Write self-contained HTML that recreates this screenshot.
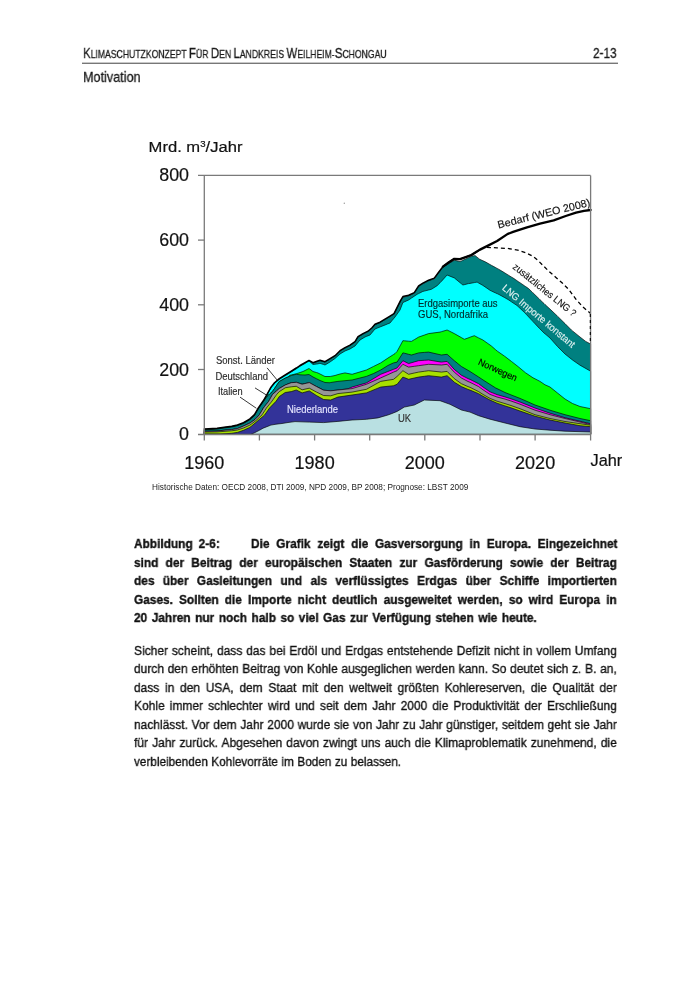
<!DOCTYPE html>
<html><head><meta charset="utf-8">
<style>
html,body{margin:0;padding:0;background:#fff;}
body{width:700px;height:990px;position:relative;overflow:hidden;font-family:"Liberation Sans",sans-serif;color:#1a1a1a;}
.ln{position:absolute;left:0;top:0;white-space:normal;transform-origin:0 0;text-align:justify;text-align-last:justify;line-height:1;will-change:transform;}
.r{font-size:13.7px;-webkit-text-stroke:0.35px #111;color:#111;}
.h{-webkit-text-stroke:0.3px #1a1a1a;}
.b{font-size:13.2px;font-weight:bold;-webkit-text-stroke:0.35px #111;color:#111;}
svg{position:absolute;left:0;top:0;will-change:transform;}
</style></head><body>
<svg width="700" height="990" viewBox="0 0 700 990" font-family="Liberation Sans, sans-serif">
<!-- header line -->
<rect x="82" y="62.6" width="536" height="1.4" fill="#777"/>
<!-- chart layers -->
<g>
<path d="M204.3,434.3 L204.3,429.4 L217.1,428.6 L220.0,428.1 L226.0,427.2 L231.7,426.6 L237.4,425.2 L243.5,422.9 L249.9,419.2 L251.0,418.2 L251.4,417.8 L254.5,414.9 L255.0,414.0 L256.0,412.3 L257.0,410.6 L258.5,408.0 L259.3,406.8 L259.4,406.7 L262.0,403.0 L263.0,401.5 L263.3,401.1 L263.4,400.9 L264.7,398.7 L266.3,395.9 L266.4,395.7 L267.0,394.6 L267.2,394.3 L268.8,391.4 L269.3,390.5 L269.6,389.9 L270.9,387.6 L271.0,387.4 L272.0,386.1 L272.4,385.6 L272.6,385.4 L274.5,383.0 L276.0,381.7 L276.2,381.5 L276.8,381.0 L279.3,378.9 L282.0,377.2 L285.2,375.2 L285.6,375.0 L288.0,373.5 L290.0,372.3 L291.3,371.5 L293.0,370.4 L295.0,369.1 L296.3,368.3 L298.0,367.2 L300.0,365.8 L302.1,364.6 L303.0,364.1 L305.0,363.0 L309.0,360.8 L309.3,361.0 L313.0,363.0 L316.4,361.7 L317.0,361.5 L318.0,361.2 L320.0,360.5 L323.6,361.6 L325.0,362.0 L330.0,359.0 L330.7,358.6 L335.0,356.0 L337.9,353.1 L340.0,351.0 L345.0,348.0 L348.0,346.5 L350.0,345.5 L352.1,344.0 L355.0,342.0 L358.0,337.0 L360.0,335.8 L363.0,334.0 L365.0,333.0 L366.4,332.3 L368.0,331.5 L370.0,329.8 L372.0,328.0 L373.6,326.1 L375.0,324.5 L377.9,323.3 L380.0,322.5 L380.7,322.1 L385.0,319.5 L387.9,317.8 L388.0,317.7 L390.0,316.5 L392.0,315.2 L393.6,314.2 L394.0,314.0 L395.0,312.0 L397.1,307.8 L398.0,306.0 L400.0,302.0 L400.5,301.0 L402.9,297.2 L404.3,296.9 L408.6,295.8 L411.4,294.5 L414.3,293.2 L417.1,288.8 L418.6,286.5 L422.9,283.7 L424.3,283.0 L428.6,280.8 L431.4,279.8 L434.3,278.7 L437.1,274.9 L438.6,272.9 L440.0,271.0 L441.4,269.2 L442.9,267.2 L447.1,264.6 L448.6,263.7 L450.0,262.8 L454.3,260.2 L460.0,261.5 L461.4,260.9 L462.9,260.2 L464.3,259.6 L465.7,259.0 L468.0,257.9 L468.6,257.6 L470.0,257.0 L471.4,256.3 L474.3,255.7 L475.0,255.5 L477.1,257.2 L478.6,258.4 L479.7,259.3 L482.9,260.7 L483.0,260.8 L485.7,262.0 L487.0,262.8 L490.0,264.5 L491.4,265.3 L495.7,267.6 L497.0,268.4 L497.1,268.4 L499.0,269.4 L500.0,270.0 L504.3,272.6 L505.0,273.1 L508.0,274.9 L511.0,276.8 L511.4,277.0 L514.0,278.6 L517.0,280.7 L518.6,281.8 L520.0,282.7 L524.5,285.8 L525.7,286.6 L526.0,286.8 L528.6,288.6 L532.0,291.9 L533.0,292.9 L535.0,294.8 L539.5,299.2 L540.0,299.7 L542.9,302.5 L544.0,303.5 L545.0,304.5 L550.0,309.1 L557.0,315.7 L557.5,316.2 L565.0,323.6 L571.4,330.0 L572.5,330.9 L580.0,337.0 L585.7,341.4 L590.6,344.0 L590.6,434.3 Z" fill="#008080" stroke="#000" stroke-width="0.65" stroke-linejoin="round"/>
<path d="M204.3,434.3 L204.3,430.0 L217.1,429.1 L220.0,428.6 L226.0,427.7 L231.7,427.0 L237.4,425.7 L243.5,423.5 L249.9,419.7 L251.0,418.7 L251.4,418.3 L254.5,415.4 L255.0,414.5 L256.0,412.8 L257.0,411.1 L258.5,408.5 L259.3,407.3 L259.4,407.2 L262.0,403.5 L263.0,402.0 L263.3,401.6 L263.4,401.5 L264.7,399.7 L266.3,397.5 L266.4,397.3 L267.0,396.5 L267.2,394.8 L268.8,391.9 L269.3,391.0 L269.6,390.4 L270.9,388.1 L271.0,387.9 L272.0,386.6 L272.4,386.1 L272.6,385.9 L274.5,383.5 L276.0,382.2 L276.2,382.0 L276.8,381.5 L279.3,379.4 L282.0,377.7 L285.2,375.7 L285.6,375.5 L288.0,374.0 L290.0,372.8 L291.3,372.0 L293.0,370.9 L295.0,369.6 L296.3,368.8 L298.0,367.7 L300.0,366.3 L302.1,365.1 L303.0,364.6 L305.0,363.5 L309.0,360.8 L309.3,361.1 L313.0,364.5 L316.4,364.1 L317.0,364.0 L318.0,363.8 L320.0,363.3 L323.6,364.5 L325.0,365.0 L330.0,362.0 L330.7,361.5 L335.0,358.5 L337.9,355.9 L340.0,354.0 L345.0,351.0 L348.0,349.8 L350.0,349.0 L352.1,347.7 L355.0,346.0 L360.0,340.0 L365.0,337.0 L366.4,336.4 L370.0,335.0 L373.6,330.7 L375.0,329.0 L377.9,327.8 L380.0,327.0 L380.7,326.7 L385.0,325.0 L387.9,323.8 L388.0,323.8 L390.0,323.0 L392.0,320.6 L393.6,318.7 L395.0,317.0 L397.1,314.1 L400.0,310.0 L402.9,302.5 L404.3,301.9 L408.6,300.0 L411.4,298.1 L414.3,296.2 L417.1,294.3 L418.6,293.6 L422.9,291.4 L424.3,291.1 L428.6,290.0 L431.4,289.3 L437.1,285.7 L440.0,282.8 L441.4,281.4 L447.1,275.0 L450.0,276.2 L454.3,277.9 L461.4,283.8 L462.9,285.0 L464.3,284.7 L468.0,283.7 L468.6,283.6 L470.0,283.4 L474.3,282.6 L477.1,282.1 L478.6,283.0 L482.9,285.4 L483.0,285.5 L487.0,288.2 L490.0,290.3 L491.4,291.0 L495.7,293.0 L497.0,293.6 L497.1,293.6 L499.0,294.5 L504.3,297.4 L505.0,297.8 L508.0,299.5 L511.0,301.5 L511.4,301.8 L517.0,305.5 L518.6,307.0 L520.0,308.3 L524.5,312.5 L525.7,313.8 L526.0,314.1 L532.0,320.5 L533.0,321.6 L535.0,323.7 L539.5,328.5 L540.0,329.0 L544.0,333.0 L545.0,333.8 L550.0,338.0 L557.5,346.5 L565.0,354.0 L572.5,360.0 L580.0,365.2 L590.6,371.2 L590.6,434.3 Z" fill="#00ffff" stroke="#000" stroke-width="0.65" stroke-linejoin="round"/>
<path d="M204.3,434.3 L204.3,430.0 L217.1,429.1 L220.0,428.6 L226.0,427.7 L231.7,427.0 L237.4,425.7 L243.5,423.5 L249.9,419.7 L251.0,418.7 L251.4,418.3 L254.5,415.4 L255.0,414.5 L256.0,412.8 L257.0,411.1 L258.5,408.5 L259.3,407.3 L259.4,407.2 L262.0,403.5 L263.0,402.0 L263.3,401.6 L263.4,401.5 L264.7,399.7 L266.3,397.5 L266.4,397.3 L267.0,396.5 L268.8,394.8 L269.3,394.3 L269.6,394.0 L270.9,392.9 L272.0,391.9 L272.4,391.5 L272.6,391.2 L274.5,388.5 L276.0,386.3 L276.2,386.0 L276.8,385.1 L279.3,381.5 L282.0,380.0 L285.2,378.2 L288.0,377.0 L290.0,375.2 L291.3,374.9 L293.0,374.6 L295.0,374.0 L296.3,373.7 L298.0,373.2 L300.0,372.5 L302.1,371.8 L303.0,371.5 L305.0,370.5 L309.0,368.5 L309.3,368.7 L313.0,371.5 L316.4,372.5 L318.0,373.0 L320.0,374.0 L323.6,375.8 L325.0,376.5 L330.0,376.5 L330.7,376.4 L335.0,375.5 L337.9,374.6 L340.0,374.0 L345.0,372.9 L348.0,373.5 L352.1,374.3 L366.4,370.0 L373.6,366.4 L377.9,364.3 L380.7,362.9 L387.9,358.1 L388.0,358.0 L392.0,355.5 L393.6,354.5 L395.0,353.6 L397.1,351.4 L402.9,340.7 L404.3,340.8 L408.6,341.2 L411.4,341.4 L414.3,339.7 L418.6,337.1 L424.3,335.1 L428.6,333.6 L440.0,332.1 L441.4,331.7 L447.1,330.0 L450.0,331.4 L454.3,333.6 L461.4,337.6 L464.3,339.3 L468.0,338.0 L470.0,337.2 L474.3,335.7 L478.6,337.9 L482.9,340.0 L483.0,340.1 L487.0,342.9 L490.0,345.0 L491.4,346.0 L495.7,349.8 L497.0,350.9 L497.1,351.0 L504.3,356.0 L505.0,356.5 L511.0,361.1 L511.4,361.4 L518.6,367.0 L520.0,368.2 L525.7,372.9 L526.0,373.1 L533.0,377.8 L535.0,378.8 L540.0,381.4 L545.0,384.8 L550.0,387.0 L557.5,393.0 L565.0,399.0 L572.5,403.5 L580.0,406.5 L590.6,408.7 L590.6,434.3 Z" fill="#00ff00" stroke="#000" stroke-width="0.65" stroke-linejoin="round"/>
<path d="M204.3,434.3 L204.3,430.0 L217.1,429.1 L220.0,428.6 L226.0,427.7 L231.7,427.0 L237.4,425.7 L243.5,423.5 L249.9,419.7 L251.0,418.7 L251.4,418.3 L254.5,415.4 L255.0,414.5 L256.0,412.8 L257.0,411.1 L258.5,408.5 L259.3,407.3 L259.4,407.2 L262.0,403.5 L263.0,402.0 L263.3,401.6 L263.4,401.5 L264.7,399.7 L266.3,397.5 L266.4,397.3 L267.0,396.5 L268.8,394.8 L269.3,394.3 L269.6,394.0 L270.9,392.9 L272.0,391.9 L272.4,391.5 L272.6,391.2 L274.5,388.5 L276.0,386.3 L276.2,386.0 L276.8,385.1 L279.3,381.5 L282.0,380.0 L285.2,378.2 L288.0,377.0 L291.3,375.5 L295.0,374.6 L296.3,374.3 L300.0,374.8 L302.1,374.9 L305.0,375.0 L309.0,374.5 L309.3,374.7 L313.0,377.0 L316.4,378.7 L320.0,380.5 L323.6,381.9 L325.0,382.5 L330.0,382.8 L330.7,382.5 L337.9,381.4 L348.0,380.4 L352.1,380.0 L366.4,376.4 L373.6,373.5 L377.9,371.4 L380.7,370.0 L387.9,365.5 L392.0,363.6 L393.6,362.9 L397.1,362.1 L402.9,352.9 L404.3,353.2 L408.6,354.3 L411.4,355.0 L414.3,354.2 L418.6,352.9 L424.3,352.4 L428.6,352.1 L440.0,354.7 L441.4,355.0 L447.1,354.3 L450.0,356.9 L454.3,360.7 L461.4,366.5 L468.0,370.3 L470.0,371.5 L478.6,377.0 L483.0,379.9 L487.0,382.5 L490.0,384.4 L495.7,388.0 L497.0,388.6 L505.0,392.5 L511.0,394.9 L520.0,398.4 L526.0,401.0 L535.0,405.0 L550.0,410.2 L565.0,414.7 L580.0,418.5 L590.6,420.7 L590.6,434.3 Z" fill="#008080" stroke="#000" stroke-width="0.65" stroke-linejoin="round"/>
<path d="M204.3,434.3 L204.3,431.3 L217.1,431.0 L220.0,430.7 L226.0,430.0 L231.7,429.6 L237.4,428.6 L243.5,426.0 L249.9,423.1 L251.0,422.3 L251.4,422.0 L255.0,419.5 L256.0,418.4 L257.0,417.4 L259.3,414.9 L259.4,414.7 L262.0,410.4 L263.0,408.7 L263.4,408.0 L264.7,406.3 L266.3,404.3 L266.4,404.2 L268.8,401.1 L269.6,399.7 L270.9,397.3 L272.0,395.4 L272.6,394.3 L276.0,391.4 L276.2,391.2 L276.8,390.7 L279.3,388.5 L282.0,386.9 L285.2,385.0 L288.0,383.9 L291.3,382.7 L295.0,382.4 L296.3,382.3 L302.1,384.2 L309.3,382.6 L316.4,386.5 L323.6,390.2 L330.7,390.8 L337.9,390.0 L348.0,388.8 L352.1,387.0 L366.4,382.9 L377.9,376.0 L380.7,374.3 L387.9,371.5 L392.0,369.9 L393.6,369.3 L397.1,367.9 L402.9,360.7 L404.3,361.4 L408.6,363.6 L414.3,361.9 L418.6,360.7 L424.3,360.3 L428.6,360.0 L440.0,361.9 L441.4,362.1 L447.1,361.4 L450.0,364.6 L454.3,369.4 L461.4,375.2 L468.0,378.6 L470.0,379.4 L478.6,383.7 L483.0,387.0 L490.0,391.8 L497.0,394.6 L505.0,396.9 L511.0,398.8 L520.0,402.0 L526.0,404.4 L535.0,408.0 L550.0,413.2 L565.0,417.7 L580.0,421.2 L590.6,423.7 L590.6,434.3 Z" fill="#ff00ff" stroke="#000" stroke-width="0.65" stroke-linejoin="round"/>
<path d="M204.3,434.3 L204.3,431.3 L217.1,431.0 L220.0,430.7 L226.0,430.0 L231.7,429.6 L237.4,428.6 L243.5,426.0 L249.9,423.1 L251.0,422.3 L251.4,422.0 L255.0,419.5 L256.0,418.4 L257.0,417.4 L259.3,414.9 L259.4,414.7 L262.0,410.4 L263.0,408.7 L263.4,408.0 L264.7,406.3 L266.3,404.3 L266.4,404.2 L268.8,401.1 L269.6,399.7 L270.9,397.3 L272.0,395.4 L272.6,394.3 L276.0,391.4 L276.2,391.2 L276.8,390.7 L279.3,388.5 L282.0,386.9 L285.2,385.0 L288.0,383.9 L291.3,382.7 L295.0,382.4 L296.3,382.3 L302.1,384.2 L309.3,382.6 L316.4,386.5 L323.6,390.2 L330.7,390.8 L337.9,390.0 L352.1,388.6 L366.4,384.3 L377.9,379.2 L380.7,377.9 L387.9,374.7 L392.0,372.8 L393.6,372.1 L397.1,370.7 L402.9,364.3 L404.3,365.0 L408.6,367.1 L414.3,366.3 L418.6,365.7 L424.3,364.9 L428.6,364.3 L440.0,364.9 L441.4,365.0 L447.1,364.3 L450.0,367.5 L454.3,372.2 L461.4,378.0 L468.0,381.5 L470.0,382.3 L478.6,386.6 L483.0,389.8 L490.0,394.4 L497.0,397.0 L505.0,399.1 L511.0,401.0 L520.0,404.2 L526.0,406.6 L535.0,410.2 L550.0,414.7 L565.0,418.5 L580.0,422.0 L590.6,424.5 L590.6,434.3 Z" fill="#969696" stroke="#000" stroke-width="0.65" stroke-linejoin="round"/>
<path d="M204.3,434.3 L204.3,432.1 L217.1,431.9 L220.0,431.7 L226.0,431.2 L231.7,430.8 L237.4,430.0 L243.5,428.0 L249.9,425.1 L251.0,424.3 L251.4,424.0 L255.0,421.3 L256.0,420.5 L257.0,419.6 L259.4,417.3 L262.0,414.9 L263.0,413.3 L264.7,410.7 L266.3,408.2 L266.4,408.0 L269.6,404.1 L270.9,402.5 L272.0,401.1 L276.0,395.4 L276.2,395.2 L276.8,394.3 L279.3,391.6 L282.0,389.9 L285.2,387.8 L288.0,387.3 L291.3,386.8 L295.0,386.4 L296.3,386.3 L302.1,389.8 L309.3,388.2 L316.4,392.0 L323.6,395.5 L330.7,395.8 L337.9,393.6 L352.1,392.1 L366.4,389.3 L377.9,382.9 L380.7,381.4 L387.9,380.2 L392.0,379.6 L393.6,379.3 L397.1,376.4 L402.9,370.7 L404.3,371.6 L408.6,374.3 L414.3,373.0 L418.6,372.1 L424.3,371.3 L428.6,370.7 L440.0,371.9 L441.4,372.1 L447.1,371.4 L450.0,374.3 L454.3,378.6 L461.4,383.7 L468.0,386.6 L470.0,387.3 L478.6,391.6 L483.0,394.4 L490.0,398.4 L497.0,401.2 L505.0,403.6 L511.0,405.5 L520.0,408.7 L526.0,411.1 L535.0,414.7 L550.0,418.5 L565.0,421.5 L580.0,423.7 L590.6,425.2 L590.6,434.3 Z" fill="#a8e000" stroke="#000" stroke-width="0.65" stroke-linejoin="round"/>
<path d="M204.3,434.3 L204.3,434.0 L220.0,434.0 L226.0,433.7 L231.7,433.3 L237.4,432.4 L243.5,430.3 L249.9,427.4 L251.0,426.5 L251.4,426.2 L255.0,423.2 L257.0,421.5 L259.4,419.4 L263.0,416.4 L264.7,414.9 L266.3,412.6 L269.6,408.0 L270.9,406.6 L276.0,401.3 L276.2,401.1 L279.3,396.5 L282.0,394.7 L285.2,392.5 L288.0,392.1 L291.3,391.6 L295.0,390.4 L296.3,390.0 L302.1,392.9 L309.3,390.9 L316.4,395.5 L323.6,399.5 L330.7,400.0 L337.9,397.1 L352.1,395.0 L366.4,392.9 L377.9,388.2 L380.7,387.1 L387.9,386.3 L392.0,385.9 L393.6,385.7 L397.1,384.3 L402.9,377.1 L404.3,377.6 L408.6,379.3 L414.3,378.0 L418.6,377.1 L424.3,376.3 L428.6,375.7 L440.0,376.9 L441.4,377.1 L447.1,375.7 L450.0,378.3 L454.3,382.2 L461.4,386.6 L468.0,389.4 L470.0,390.1 L478.6,393.7 L483.0,396.3 L490.0,400.1 L497.0,403.2 L505.0,405.9 L511.0,407.8 L520.0,411.0 L526.0,413.1 L535.0,416.2 L550.0,420.0 L565.0,423.0 L580.0,425.7 L590.6,426.7 L590.6,434.3 Z" fill="#333399" stroke="#000" stroke-width="0.65" stroke-linejoin="round"/>
<path d="M251.4,434.3 L251.4,434.2 L255.0,432.5 L259.4,430.3 L263.0,428.2 L266.3,426.9 L270.9,425.1 L276.0,424.2 L282.0,423.5 L288.0,422.5 L295.0,421.6 L309.3,422.1 L323.6,422.6 L337.9,421.4 L352.1,420.0 L366.4,419.3 L377.9,417.9 L387.9,415.0 L392.0,413.5 L397.1,411.4 L404.3,407.1 L414.3,405.0 L424.3,400.0 L440.0,400.7 L450.0,404.3 L461.4,410.0 L470.0,412.1 L478.6,415.7 L490.0,419.2 L505.0,423.0 L520.0,426.7 L535.0,429.0 L550.0,430.2 L565.0,431.2 L590.6,432.0 L590.6,434.3 Z" fill="#b9e0e2" stroke="#000" stroke-width="0.65" stroke-linejoin="round"/>
</g>
<!-- Bedarf -->
<polyline points="204.3,429.1 217.1,428.3 226.0,426.9 231.7,426.3 237.4,424.9 243.5,422.6 249.9,418.9 254.5,414.6 258.5,407.7 263.3,400.8 267.2,394.0 271.0,387.1 274.5,382.7 279.3,378.6 285.6,374.7 291.3,371.2 296.3,368.0 300.0,365.5 305.0,362.7 309.0,360.5 313.0,362.7 317.0,361.2 320.0,360.2 325.0,361.7 330.0,358.7 335.0,355.7 340.0,350.7 345.0,347.7 350.0,345.2 355.0,341.7 358.0,336.7 363.0,333.7 368.0,331.2 372.0,327.7 375.0,324.2 380.0,322.2 385.0,319.2 390.0,316.2 394.0,313.7 398.0,305.7 400.5,300.7 402.9,296.6 408.6,295.2 414.3,292.6 418.6,285.9 422.9,283.1 428.6,280.2 434.3,278.1 438.6,272.3 442.9,266.6 448.6,262.5 454.3,258.8 460.0,259.1 465.7,257.1 471.4,255.0 476.5,251.8 480.0,249.6" fill="none" stroke="#000" stroke-width="1.5" stroke-linejoin="round" stroke-linecap="round"/>
<polyline points="442.9,266.6 448.6,262.5 454.3,258.8 460.0,259.1 465.7,257.1 471.4,255.0 476.5,251.8 480.0,249.6 488.0,245.6 497.1,241.0 507.4,234.1 513.1,231.9 520.0,229.6 527.0,227.3 540.0,223.7 553.7,220.3 565.7,216.0 576.0,212.6 584.0,210.8 590.6,210.0" fill="none" stroke="#000" stroke-width="2.3" stroke-linejoin="round" stroke-linecap="round"/>
<polyline points="486.9,247.3 497.1,247.9 507.4,248.4 517.7,250.1 526.3,253.0 533.1,256.4 538.3,260.7 543.4,265.9 548.6,271.0 555.4,277.0 562.3,283.0 569.1,289.9 576.0,299.3 582.9,307.0 590.3,313.2" fill="none" stroke="#000" stroke-width="1.3" stroke-dasharray="4,3"/>
<!-- axes frame -->
<g stroke="#7a7a7a" stroke-width="1.3" fill="none">
<line x1="204.3" y1="175.4" x2="204.3" y2="440.5"/>
<line x1="198" y1="175.4" x2="590.6" y2="175.4"/>
<line x1="590.6" y1="175.4" x2="590.6" y2="440.5"/>
<line x1="198" y1="434.5" x2="590.6" y2="434.5"/>
<line x1="198" y1="240.1" x2="204.3" y2="240.1"/>
<line x1="198" y1="304.8" x2="204.3" y2="304.8"/>
<line x1="198" y1="369.5" x2="204.3" y2="369.5"/>
<line x1="259.4" y1="434.5" x2="259.4" y2="440.5"/>
<line x1="314.6" y1="434.5" x2="314.6" y2="440.5"/>
<line x1="369.7" y1="434.5" x2="369.7" y2="440.5"/>
<line x1="424.8" y1="434.5" x2="424.8" y2="440.5"/>
<line x1="480" y1="434.5" x2="480" y2="440.5"/>
<line x1="535.1" y1="434.5" x2="535.1" y2="440.5"/>
</g>
<line x1="590.3" y1="314" x2="590.3" y2="344" stroke="#000" stroke-width="1.1" stroke-dasharray="3,3"/>
<circle cx="344.3" cy="203.3" r="0.7" fill="#999"/>
<!-- leader lines -->
<g stroke="#222" stroke-width="0.9">
<line x1="267.1" y1="367.9" x2="277.1" y2="380"/>
<line x1="255" y1="387.9" x2="266.4" y2="395"/>
<line x1="240" y1="397.1" x2="256.4" y2="408.3"/>
</g>
<!-- chart text -->
<g fill="#111" stroke="#111" stroke-width="0.2">
<text transform="translate(148.6,151.6) scale(1.07,1)" font-size="15.5">Mrd. m<tspan font-size="9" dy="-4.6">3</tspan><tspan dy="4.6">/Jahr</tspan></text>
<g font-size="18.6" text-anchor="end">
<text transform="translate(189,181.3) scale(0.96,1)">800</text>
<text transform="translate(189,246.1) scale(0.96,1)">600</text>
<text transform="translate(189,310.8) scale(0.96,1)">400</text>
<text transform="translate(189,375.5) scale(0.96,1)">200</text>
<text transform="translate(189,440) scale(0.96,1)">0</text>
</g>
<g font-size="18.5" text-anchor="middle">
<text transform="translate(204.3,469) scale(0.975,1)">1960</text>
<text transform="translate(314.6,469) scale(0.975,1)">1980</text>
<text transform="translate(424.8,469) scale(0.975,1)">2000</text>
<text transform="translate(535.1,469) scale(0.975,1)">2020</text>
</g>
<text x="590.6" y="465.8" font-size="16.3">Jahr</text>
</g>
<g fill="#222">
<text x="152" y="490.2" font-size="8.6" textLength="316.3" lengthAdjust="spacingAndGlyphs">Historische Daten: OECD 2008, DTI 2009, NPD 2009, BP 2008; Prognose: LBST 2009</text>
<g font-size="10" fill="#2a2a2a" stroke="#2a2a2a" stroke-width="0.15">
<text x="216" y="363.7" textLength="59" lengthAdjust="spacingAndGlyphs">Sonst. Länder</text>
<text x="215.4" y="380" textLength="52.5" lengthAdjust="spacingAndGlyphs">Deutschland</text>
<text x="217.9" y="395" textLength="24.7" lengthAdjust="spacingAndGlyphs">Italien</text>
</g>
<text stroke="#e4e4ff" stroke-width="0.15" x="287" y="413.1" font-size="10.3" fill="#e4e4ff" textLength="51" lengthAdjust="spacingAndGlyphs">Niederlande</text>
<text stroke="#333" stroke-width="0.15" x="397.9" y="421.9" font-size="10.3" fill="#333" textLength="13.2" lengthAdjust="spacingAndGlyphs">UK</text>
<g font-size="10.1" fill="#002a2a" stroke="#002a2a" stroke-width="0.15">
<text x="418" y="307.2" textLength="79.6" lengthAdjust="spacingAndGlyphs">Erdgasimporte aus</text>
<text x="418" y="317.6" textLength="70" lengthAdjust="spacingAndGlyphs">GUS, Nordafrika</text>
</g>
<text stroke="#000" stroke-width="0.15" font-size="9.4" fill="#000" transform="translate(477.5,364.3) rotate(24.3)" textLength="41.6" lengthAdjust="spacingAndGlyphs">Norwegen</text>
<text stroke="#111" stroke-width="0.15" font-size="10.6" fill="#111" transform="translate(498.6,228.4) rotate(-13.8)" textLength="95" lengthAdjust="spacingAndGlyphs">Bedarf (WEO 2008)</text>
<text stroke="#111" stroke-width="0.15" font-size="9.8" fill="#111" transform="translate(512.1,267.9) rotate(38.9)" textLength="78.2" lengthAdjust="spacingAndGlyphs">zusätzliches LNG ?</text>
<text stroke="#dcefef" stroke-width="0.15" font-size="9.8" fill="#dcefef" transform="translate(501.4,289.1) rotate(40)" textLength="92" lengthAdjust="spacingAndGlyphs">LNG Importe konstant</text>
</g>
</svg>
<!-- header text -->
<div class="ln h" style="font-size:10.9px;left:82.7px;top:45.82px;transform:scaleX(0.793);text-align:left;text-align-last:left;white-space:nowrap"><span style="font-size:14.5px">K</span>LIMASCHUTZKONZEPT <span style="font-size:14.5px">F</span>ÜR <span style="font-size:14.5px">D</span>EN <span style="font-size:14.5px">L</span>ANDKREIS <span style="font-size:14.5px">W</span>EILHEIM-<span style="font-size:14.5px">S</span>CHONGAU</div>
<div class="ln h" style="font-size:14.5px;left:592.5px;top:46.02px;transform:scaleX(0.81);text-align:left;text-align-last:left;white-space:nowrap">2-13</div>
<div class="ln h" style="font-size:14.2px;left:83.1px;top:69.78px;transform:scaleX(0.89);text-align:left;text-align-last:left;white-space:nowrap">Motivation</div>
<div class="ln b" style="left:134.20px;top:537.12px;width:95.33px;transform:scaleX(0.9000);text-align-last:justify;">Abbildung 2-6:</div>
<div class="ln b" style="left:250.50px;top:537.12px;width:407.22px;transform:scaleX(0.9000);text-align-last:justify;">Die Grafik zeigt die Gasversorgung in Europa. Eingezeichnet</div>
<div class="ln b" style="left:134.20px;top:555.67px;width:536.44px;transform:scaleX(0.9000);text-align-last:justify;">sind der Beitrag der europäischen Staaten zur Gasförderung sowie der Beitrag</div>
<div class="ln b" style="left:134.20px;top:574.22px;width:536.44px;transform:scaleX(0.9000);text-align-last:justify;">des über Gasleitungen und als verflüssigtes Erdgas über Schiffe importierten</div>
<div class="ln b" style="left:134.20px;top:592.77px;width:536.44px;transform:scaleX(0.9000);text-align-last:justify;">Gases. Sollten die Importe nicht deutlich ausgeweitet werden, so wird Europa in</div>
<div class="ln b" style="left:134.20px;top:611.32px;width:447.56px;transform:scaleX(0.9000);text-align-last:justify;">20 Jahren nur noch halb so viel Gas zur Verfügung stehen wie heute.</div>
<div class="ln r" style="left:134.20px;top:643.60px;width:551.77px;transform:scaleX(0.8750);text-align-last:justify;">Sicher scheint, dass das bei Erdöl und Erdgas entstehende Defizit nicht in vollem Umfang</div>
<div class="ln r" style="left:134.20px;top:662.15px;width:551.77px;transform:scaleX(0.8750);text-align-last:justify;">durch den erhöhten Beitrag von Kohle ausgeglichen werden kann. So deutet sich z. B. an,</div>
<div class="ln r" style="left:134.20px;top:680.70px;width:551.77px;transform:scaleX(0.8750);text-align-last:justify;">dass in den USA, dem Staat mit den weltweit größten Kohlereserven, die Qualität der</div>
<div class="ln r" style="left:134.20px;top:699.25px;width:551.77px;transform:scaleX(0.8750);text-align-last:justify;">Kohle immer schlechter wird und seit dem Jahr 2000 die Produktivität der Erschließung</div>
<div class="ln r" style="left:134.20px;top:717.80px;width:551.77px;transform:scaleX(0.8750);text-align-last:justify;">nachlässt. Vor dem Jahr 2000 wurde sie von Jahr zu Jahr günstiger, seitdem geht sie Jahr</div>
<div class="ln r" style="left:134.20px;top:736.35px;width:551.77px;transform:scaleX(0.8750);text-align-last:justify;">für Jahr zurück. Abgesehen davon zwingt uns auch die Klimaproblematik zunehmend, die</div>
<div class="ln r" style="left:134.20px;top:754.90px;width:311.14px;transform:scaleX(0.8585);text-align-last:justify;">verbleibenden Kohlevorräte im Boden zu belassen.</div>
</body></html>
